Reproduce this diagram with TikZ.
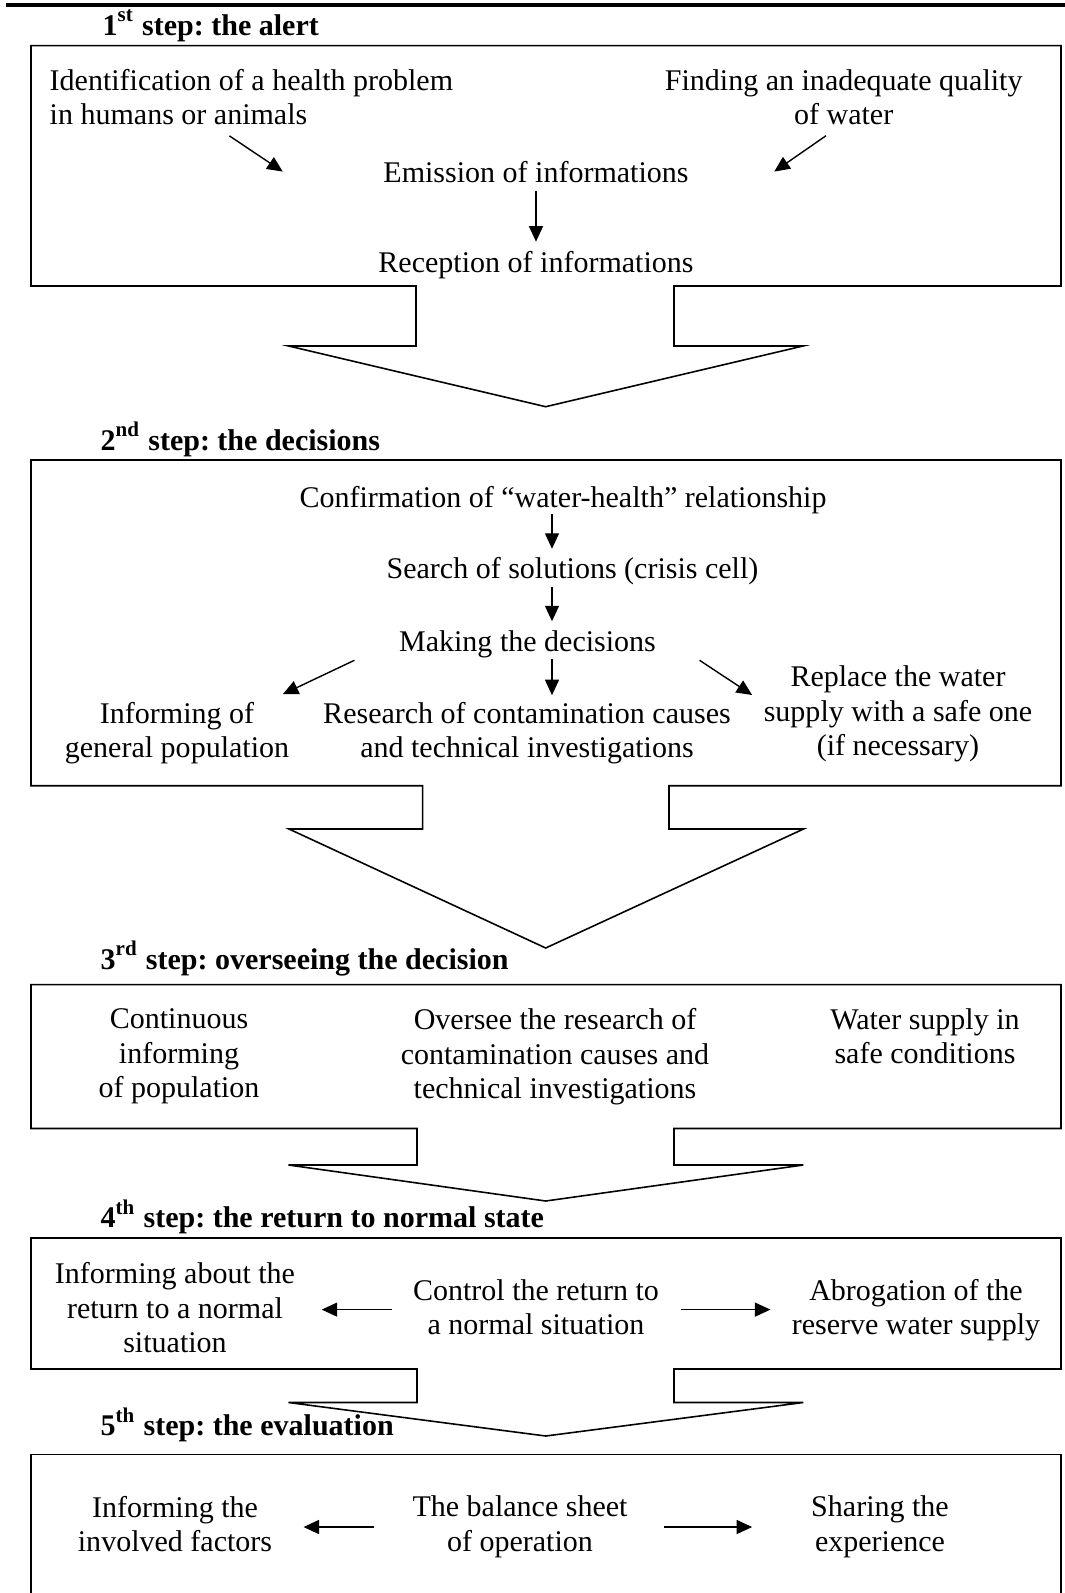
\documentclass[tikz,border=0pt]{standalone}
\usepackage{fontspec}
\setmainfont{Liberation Serif}
\usetikzlibrary{arrows.meta}
\tikzset{lbl/.style={inner sep=0pt,align=center},
  stephead/.style={inner sep=0pt,anchor=base west,font=\bfseries},
  arr/.style={-{Triangle[length=0.155cm,width=0.14cm]},line width=0.4pt},
  frame/.style={line width=0.45pt,line join=miter}}

\begin{document}
\frenchspacing
\fontsize{8.54pt}{9.82pt}\selectfont
\begin{tikzpicture}[x=1cm,y=-1cm,line join=round]
\useasboundingbox (0,0) rectangle (10.65,15.93);
\draw[line width=1.15pt] (0.064,0.053) -- (10.65,0.053);
% --- frames with their block arrows
\draw[frame] (4.16,2.86) -- (0.31,2.86) -- (0.31,0.457) -- (10.61,0.457) -- (10.61,2.86) -- (6.74,2.86) -- (6.74,3.46) -- (8.03,3.46) -- (5.457,4.067) -- (2.887,3.46) -- (4.16,3.46) -- cycle;
\draw[frame] (4.227,7.857) -- (0.31,7.857) -- (0.31,4.60) -- (10.61,4.60) -- (10.61,7.857) -- (6.69,7.857) -- (6.69,8.29) -- (8.035,8.29) -- (5.457,9.48) -- (2.89,8.29) -- (4.227,8.29) -- cycle;
\draw[frame] (4.17,11.285) -- (0.31,11.285) -- (0.31,9.846) -- (10.61,9.846) -- (10.61,11.285) -- (6.74,11.285) -- (6.74,11.65) -- (8.033,11.65) -- (5.457,12.01) -- (2.885,11.65) -- (4.17,11.65) -- cycle;
\draw[frame] (4.17,13.69) -- (0.31,13.69) -- (0.31,12.38) -- (10.61,12.38) -- (10.61,13.69) -- (6.74,13.69) -- (6.74,14.025) -- (8.033,14.025) -- (5.457,14.36) -- (2.885,14.025) -- (4.17,14.025) -- cycle;
\draw[frame] (0.31,16.0) -- (0.31,14.546) -- (10.61,14.546) -- (10.61,16.0);
% --- 1st step
\node[stephead] (h1) at (1.02,0.35) {1\textsuperscript{st} step: the alert};
\node[lbl,align=left,anchor=west] (ident) at (0.49,0.972) {Identification of a health problem\\in humans or animals};
\node[lbl] (find) at (8.437,0.972) {Finding an inadequate quality\\of water};
\node[lbl,anchor=base] (emis) at (5.36,1.82) {Emission of informations};
\node[lbl,anchor=base] (recep) at (5.36,2.72) {Reception of informations};
\draw[arr] ([shift={(-0.22,0.10)}]ident.south) -- ([xshift=-1cm]emis.west);
\draw[arr] ([shift={(-0.177,0.10)}]find.south) -- ([xshift=0.85cm]emis.east);
\draw[arr,shorten <=0.08cm,shorten >=0.085cm] (emis) -- (recep);
% --- 2nd step
\node[stephead] (h2) at (1.00,4.50) {2\textsuperscript{nd} step: the decisions};
\coordinate (spine) at (5.52,0);
\node[lbl,anchor=base] (conf) at (5.63,5.07) {Confirmation of “water-health” relationship};
\node[lbl,anchor=base] (search) at (5.725,5.786) {Search of solutions (crisis cell)};
\node[lbl,anchor=base] (making) at (5.275,6.518) {Making the decisions};
\node[lbl] (inform) at (1.77,7.33) {Informing of\\general population};
\node[lbl] (research) at (5.27,7.33) {Research of contamination causes\\and technical investigations};
\node[lbl] (replace) at (8.98,7.14) {Replace the water\\supply with a safe one\\(if necessary)};
\draw[arr,shorten >=0.08cm] (conf.south -| spine) -- (search.north -| spine);
\draw[arr,shorten <=0.01cm,shorten >=0.09cm] (search.south -| spine) -- (making.north -| spine);
\draw[arr,shorten >=0.06cm] (making.south -| spine) -- (research.north -| spine);
\draw[arr] ([shift={(-0.44,0.013)}]making.south west) -- ([shift={(-0.07,-0.07)}]inform.north east);
\draw[arr] ([shift={(0.43,0.013)}]making.south east) -- ([shift={(-0.11,-0.19)}]replace.west);
% --- 3rd step
\node[stephead] (h3) at (1.00,9.69) {3\textsuperscript{rd} step: overseeing the decision};
\node[lbl] (cont) at (1.79,10.567) {Continuous\\informing\\of population};
\node[lbl] (oversee) at (5.55,10.567) {Oversee the research of\\contamination causes and\\technical investigations};
\node[lbl] (wsafe) at (9.25,10.363) {Water supply in\\safe conditions};
% --- 4th step
\node[stephead] (h4) at (1.00,12.275) {4\textsuperscript{th} step: the return to normal state};
\node[lbl] (infret) at (1.75,13.08) {Informing about the\\return to a normal\\situation};
\node[lbl] (control) at (5.36,13.07) {Control the return to\\a normal situation};
\node[lbl] (abrog) at (9.16,13.10) {Abrogation of the\\reserve water supply};
\draw[arr,shorten <=0.20cm,shorten >=0.26cm] ([yshift=-0.26mm]control.west) -- ([yshift=-0.26mm]control.west -| infret.east);
\draw[arr,shorten <=0.217cm,shorten >=0.207cm] ([yshift=-0.26mm]control.east) -- ([yshift=-0.26mm]control.east -| abrog.west);
% --- 5th step
\node[stephead] (h5) at (1.00,14.358) {5\textsuperscript{th} step: the evaluation};
\node[lbl] (infinv) at (1.75,15.24) {Informing the\\involved factors};
\node[lbl] (balance) at (5.20,15.27) {The balance sheet\\of operation};
\node[lbl] (sharing) at (8.80,15.27) {Sharing the\\experience};
\draw[arr,shorten <=0.377cm,shorten >=0.307cm] (balance.west) -- (balance.west -| infinv.east);
\draw[arr,shorten <=0.353cm,shorten >=0.584cm] (balance.east) -- (balance.east -| sharing.west);
\end{tikzpicture}
\end{document}
